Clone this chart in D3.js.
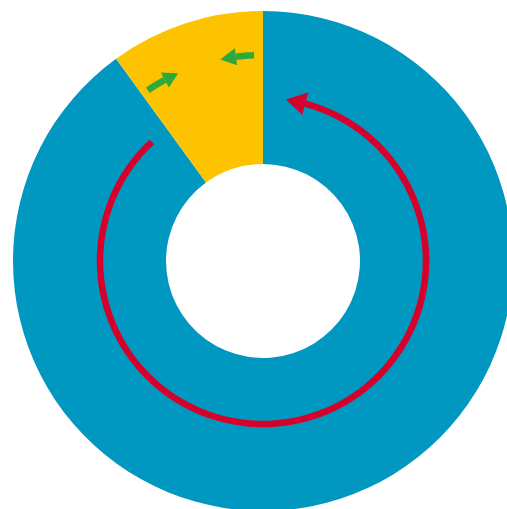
<!DOCTYPE html>
<html>
<head>
<meta charset="utf-8">
<script src="https://cdn.jsdelivr.net/npm/d3@7"></script>
<style>
  body { margin: 0; background: #fff; }
</style>
</head>
<body>
<svg id="chart" width="507" height="509"></svg>
<script>
// donut shares (percent), drawn clockwise from 12 o'clock
const segments = ["rest", "share"];
const segValues = [90, 10];
const segColors = ["#0097c1", "#fdc300"];

// arrows: start angle and tip angle in degrees (clockwise from top)
const arrowNames = ["cycle", "greenA", "greenB"];
const arrowFrom = [-43, -34, -2.5];
const arrowTo = [-352, -24.3, -12];
const arrowRadius = [163, 206, 206];
const arrowColors = ["#d6002a", "#2eaa3a", "#2eaa3a"];

const svg = d3.select("#chart");
const cx = 263, cy = 261;
const outerR = 250, innerR = 97;

const g = svg.append("g").attr("transform", `translate(${cx},${cy})`);

const pie = d3.pie().sort(null).value(d => d);
const arc = d3.arc().innerRadius(innerR).outerRadius(outerR);

g.selectAll("path.slice")
    .data(pie(segValues))
    .join("path")
    .attr("class", "slice")
    .attr("d", arc)
    .attr("fill", (d, i) => segColors[i]);

const rad = d3.scaleLinear().domain([0, 360]).range([0, 2 * Math.PI]);

// sizes per arrow (shaft width, head length, head width)
const shaftW = [6.5, 6.5, 6.5];
const headL = [20, 15, 16];
const headW = [23, 17, 17];

const line = d3.line();

arrowNames.forEach((name, i) => {
    const r = arrowRadius[i];
    const a0 = rad(arrowFrom[i]);
    const a1 = rad(arrowTo[i]);
    const dir = Math.sign(a1 - a0);
    const ab = a1 - dir * headL[i] / r;  // base of head

    const shaft = d3.arc()
        .innerRadius(r - shaftW[i] / 2)
        .outerRadius(r + shaftW[i] / 2)
        .startAngle(Math.min(a0, ab))
        .endAngle(Math.max(a0, ab));

    g.append("path")
        .attr("class", "arrow " + name)
        .attr("d", shaft())
        .attr("fill", arrowColors[i]);

    const head = [
        d3.pointRadial(a1, r),
        d3.pointRadial(ab, r + headW[i] / 2),
        d3.pointRadial(ab, r - headW[i] / 2)
    ];
    g.append("path")
        .attr("class", "head " + name)
        .attr("d", line(head) + "Z")
        .attr("fill", arrowColors[i]);
});
</script>
</body>
</html>
